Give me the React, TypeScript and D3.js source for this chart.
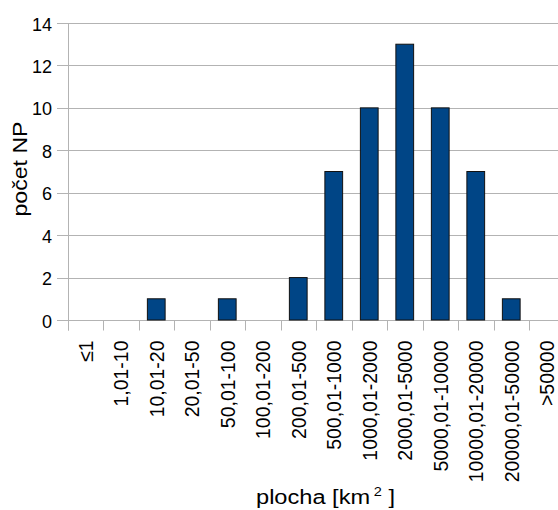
import React from "react";
import * as d3 from "d3";

const categories = [
  "≤1", "1,01-10", "10,01-20", "20,01-50", "50,01-100", "100,01-200", "200,01-500",
  "500,01-1000", "1000,01-2000", "2000,01-5000", "5000,01-10000", "10000,01-20000",
  "20000,01-50000", ">50000",
];
const counts = [0, 0, 1, 0, 1, 0, 2, 7, 10, 13, 10, 7, 1, 0];
const yTicks = [0, 2, 4, 6, 8, 10, 12, 14];
const yTitle = "počet NP";
const xTitle = "plocha [km";

const W = 558;
const H = 510;
const FONT = "'Liberation Sans', Arial, sans-serif";
const GRID = "#b3b3b3";

export default function App() {
  const left = 67.5;
  const step = 35.5;
  const x = d3
    .scaleBand<string>()
    .domain(categories)
    .range([left, left + step * categories.length])
    .paddingInner(0.5)
    .paddingOuter(0.25);
  const y = d3.scaleLinear().domain([0, 14]).range([320, 23]);
  const py = (v: number) => Math.round(y(v)) + 0.5;
  const bStep = x.step();
  const x0 = x.range()[0];
  const boundaries = d3.range(categories.length + 1).map((i) => Math.round(x0 + i * bStep) + 0.5);

  return (
    <svg
      width={W}
      height={H}
      style={{ position: "absolute", left: 0, top: 0, background: "#fff", overflow: "hidden" }}
      fontFamily={FONT}
    >
      <rect x={0} y={0} width={W} height={H} fill="#fff" />
      {yTicks.map((t) => (
        <line key={"g" + t} x1={57} x2={W + 20} y1={py(t)} y2={py(t)} stroke={GRID} strokeWidth={1} />
      ))}
      <line x1={boundaries[0]} x2={boundaries[0]} y1={py(14)} y2={py(0) + 10} stroke={GRID} strokeWidth={1} />
      {boundaries.map((bx, i) => (
        <line key={"xt" + i} x1={bx} x2={bx} y1={py(0)} y2={py(0) + 10} stroke={GRID} strokeWidth={1} />
      ))}
      {yTicks.map((t) => (
        <text key={"yl" + t} x={52} y={y(t) + 7.6} fontSize={18} textAnchor="end" fill="#000">
          {t}
        </text>
      ))}
      {categories.map((c, i) =>
        counts[i] > 0 ? (
          <rect
            key={"b" + c}
            x={x(c) as number}
            y={y(counts[i])}
            width={x.bandwidth()}
            height={y(0) - y(counts[i])}
            fill="#004586"
            stroke="#111"
            strokeWidth={1}
          />
        ) : null
      )}
      {categories.map((c) => {
        const cx = (x(c) as number) + x.bandwidth() / 2;
        return (
          <text
            key={"xl" + c}
            transform={`translate(${cx + 7.3},340.5) rotate(-90) scale(0.95,1)`}
            fontSize={20.5}
            textAnchor="end"
            fill="#000"
          >
            {c}
          </text>
        );
      })}
      <text
        transform="translate(27,169) rotate(-90)"
        fontSize={19.5}
        textAnchor="middle"
        textLength={95}
        lengthAdjust="spacingAndGlyphs"
        fill="#000"
      >
        {yTitle}
      </text>
      <text
        x={325.5}
        y={503.5}
        fontSize={19.5}
        textAnchor="middle"
        textLength={139}
        lengthAdjust="spacingAndGlyphs"
        fill="#000"
      >
        {xTitle}
        <tspan fontSize={12} dx={3} dy={-8}>2</tspan>
        <tspan dy={8}> ]</tspan>
      </text>
    </svg>
  );
}
